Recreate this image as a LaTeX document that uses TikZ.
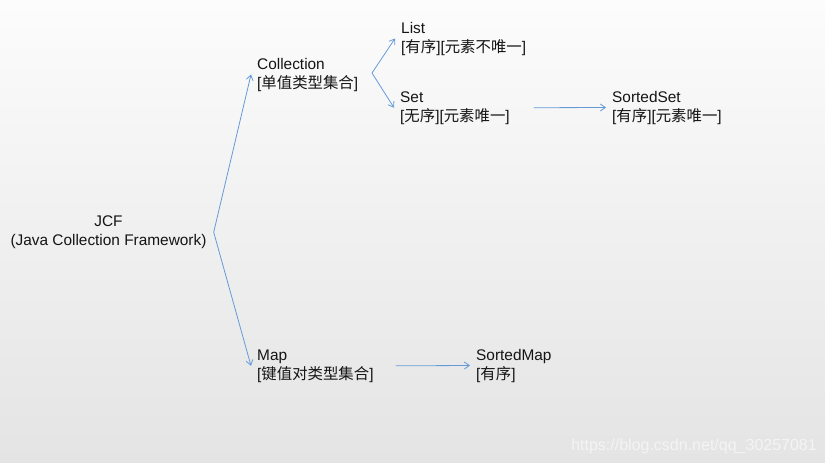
\documentclass[tikz,border=0pt]{standalone}
\usepackage{fontspec}
\setmainfont{Liberation Sans}
\newfontfamily\cjk{Noto Sans CJK SC}
\usetikzlibrary{arrows.meta}
\definecolor{arrowblue}{RGB}{100,155,215}
\definecolor{txt}{RGB}{20,20,20}
\definecolor{bgtop}{RGB}{252,252,252}
\definecolor{bgbot}{RGB}{228,228,228}
\definecolor{wmark}{RGB}{244,244,244}
\begin{document}
\begin{tikzpicture}[x=1pt,y=-1pt,
  lbl/.style={anchor=base west, align=left, inner xsep=6pt, inner ysep=0pt,
    font=\fontsize{15.4}{19}\selectfont, text=txt},
  arr/.style={draw=arrowblue, line width=0.8pt, -{Straight Barb[length=5pt,width=7pt]}}]
\shade[top color=bgtop, bottom color=bgbot] (0,0) rectangle (825,463);
\useasboundingbox (0,0) rectangle (825,463);

\node[lbl, anchor=base, align=center, inner xsep=7pt] (jcf) at (108.5,245.5)
  {JCF\\(Java Collection Framework)};
\node[lbl] (coll) at (251,88) {Collection\\{}[{\cjk 单值类型集合}]};
\node[lbl] (list) at (395,52) {List\\{}[{\cjk 有序}][{\cjk 元素不唯一}]};
\node[lbl] (set) at (394,121) {Set\\{}[{\cjk 无序}][{\cjk 元素唯一}]};
\node[lbl] (sset) at (606,121) {SortedSet\\{}[{\cjk 有序}][{\cjk 元素唯一}]};
\node[lbl] (map) at (251,379) {Map\\{}[{\cjk 键值对类型集合}]};
\node[lbl] (smap) at (470,379) {SortedMap\\{}[{\cjk 有序}]};

\coordinate (cfork) at (372,73);
\draw[arr] (jcf.east) -- (coll.west);
\draw[arr] (jcf.east) -- (map.west);
\draw[arr] (cfork) -- (list.west);
\draw[arr] (cfork) -- (set.west);
\draw[arr] ([xshift=18pt]set.east) -- (sset.west);
\draw[arr] ([xshift=16pt]map.east) -- (smap.west);

\node[anchor=base east, inner sep=0pt, font=\fontsize{16}{16}\selectfont, text=wmark]
  (wm) at (817,450) {https://blog.csdn.net/qq\_30257081};
\end{tikzpicture}
\end{document}
